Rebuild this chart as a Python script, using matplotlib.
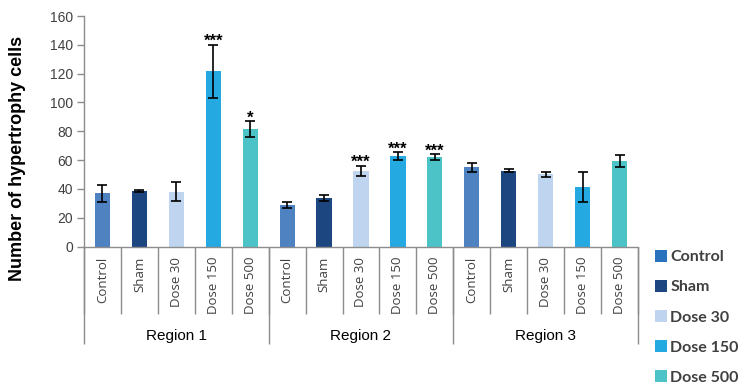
import numpy as np
import matplotlib
matplotlib.use("Agg")
import matplotlib.pyplot as plt
from matplotlib.patches import Patch

groups = ["Control", "Sham", "Dose 30", "Dose 150", "Dose 500"]
regions = ["Region 1", "Region 2", "Region 3"]

region1_mean = [37, 38.5, 38, 121.5, 81.5]
region1_err = [6, 0.5, 6.5, 18.5, 5.5]
region2_mean = [29, 33.7, 52.5, 62.8, 62]
region2_err = [2, 2, 3.5, 2.8, 2]
region3_mean = [55, 52.6, 50, 41.5, 59.3]
region3_err = [3, 1, 2, 10.5, 4]

region1_sig = ["", "", "", "***", "*"]
region2_sig = ["", "", "***", "***", "***"]
region3_sig = ["", "", "", "", ""]

bar_colors = ["#4f82c0", "#1b467f", "#bfd4ee", "#25a9e1", "#4cc3c7"]
legend_colors = ["#2a72bb", "#1b467f", "#bfd4ee", "#25a9e1", "#4cc3c7"]

means = [region1_mean, region2_mean, region3_mean]
errs = [region1_err, region2_err, region3_err]
sigs = [region1_sig, region2_sig, region3_sig]

W, H, DPI = 742, 391, 100
fig = plt.figure(figsize=(W / DPI, H / DPI), dpi=DPI)
ax = fig.add_axes([84 / W, 1 - 246.5 / H, (638 - 84) / W, (246.5 - 16) / H])

n = len(groups)
axis_grey = "#8c8c8c"
text_grey = "#404040"

for r in range(len(regions)):
    x = np.arange(n) + r * n
    ax.bar(x, means[r], width=0.41, color=bar_colors, zorder=2)
    ax.errorbar(x, means[r], yerr=errs[r], fmt="none", ecolor="black",
                elinewidth=1.2, capsize=3.3, capthick=1.2, zorder=3)
    for xi, m, e, s in zip(x, means[r], errs[r], sigs[r]):
        if s:
            ax.annotate(s, (xi, m + e), xytext=(0, -1.0), textcoords="offset points",
                        ha="center", va="baseline", fontsize=12, fontweight="bold",
                        family="Liberation Sans", color="black")

total = n * len(regions)
ax.set_xlim(-0.5, total - 0.5)
ax.set_ylim(0, 160)
ax.set_yticks(np.arange(0, 161, 20))
ax.tick_params(axis="y", direction="out", length=5, width=1, color=axis_grey,
               labelsize=10, labelcolor=text_grey, pad=3)
for lab in ax.get_yticklabels():
    lab.set_family("Liberation Sans")

for side in ["top", "right"]:
    ax.spines[side].set_visible(False)
for side in ["left", "bottom"]:
    ax.spines[side].set_color(axis_grey)
    ax.spines[side].set_linewidth(1)

# inner separators between categories (major ticks) and category names (minor ticks)
ax.set_xticks(np.arange(-0.5, total, 1.0))
ax.set_xticklabels([])
ax.tick_params(axis="x", which="major", direction="out", length=48.5, width=1,
               color=axis_grey)
ax.set_xticks(np.arange(total), minor=True)
ax.set_xticklabels(groups * len(regions), minor=True, rotation=90,
                   fontsize=9.5, family="Open Sans", color=text_grey)
ax.tick_params(axis="x", which="minor", length=0, pad=7.5)

# region boundaries and region names
sec = ax.secondary_xaxis("bottom")
sec.spines["bottom"].set_visible(False)
sec.set_xticks(np.arange(-0.5, total, n))
sec.set_xticklabels([])
sec.tick_params(axis="x", which="major", direction="out", length=70, width=1,
                color=axis_grey)
sec.set_xticks(np.arange(len(regions)) * n + (n - 1) / 2, minor=True)
sec.set_xticklabels(regions, minor=True, fontsize=11, family="Liberation Sans",
                    color="black")
sec.tick_params(axis="x", which="minor", length=0, pad=59.5)

fig.text(18 / W, 1 - 158 / H, "Number of hypertrophy cells", rotation=90,
         ha="center", va="center", fontsize=13, fontweight="bold",
         family="Liberation Sans", color="black")

handles = [Patch(facecolor=c, edgecolor="none") for c in legend_colors]
leg = fig.legend(handles, groups, loc="upper left",
                 bbox_to_anchor=(655 / W, 1 - 250 / H), frameon=False,
                 borderpad=0, borderaxespad=0, handlelength=0.75,
                 handleheight=0.75, handletextpad=0.2, labelspacing=0.98,
                 prop={"family": "Lato", "weight": "bold", "size": 11.5})
for t in leg.get_texts():
    t.set_color(text_grey)

fig.savefig("out.png", dpi=DPI)
